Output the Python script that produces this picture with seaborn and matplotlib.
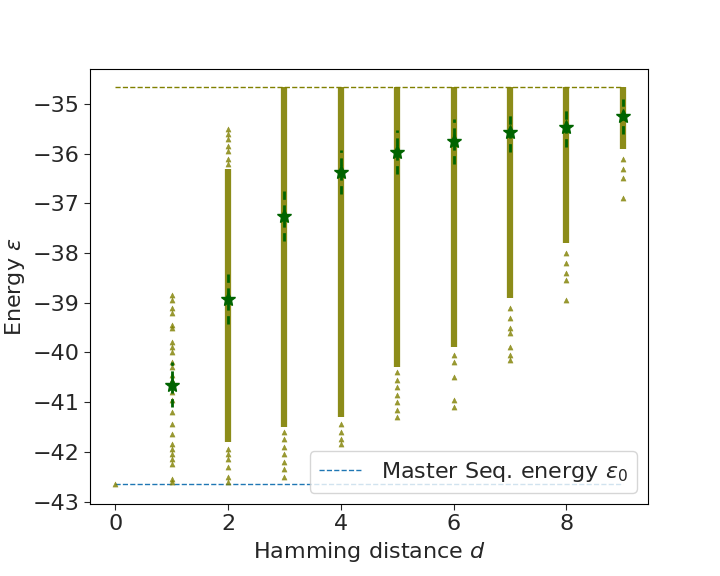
import matplotlib
matplotlib.use("Agg")
import matplotlib.pyplot as plt
import seaborn as sns
import pandas as pd

sns.set_style("white")
plt.rcParams['font.family'] = ['DejaVu Sans']

distances = [0, 1, 2, 3, 4, 5, 6, 7, 8, 9]
master_energy = -42.65
max_energy = -34.65
# dense (solid-looking) spans per distance
dense_top = [None, None, -36.3, -34.65, -34.65, -34.65, -34.65, -34.65, -34.65, -34.65]
dense_bottom = [None, None, -41.8, -41.5, -41.3, -40.3, -39.9, -38.9, -37.8, -35.9]
# individually visible sampled energies per distance
sparse = {
    0: [-42.65],
    1: [-38.85, -38.95, -39.1, -39.2, -39.45, -39.5, -39.8, -39.9, -40.0, -40.2, -40.3,
        -40.45, -40.55, -40.8, -40.95, -41.2, -41.45, -41.65, -41.85, -41.95, -42.05,
        -42.15, -42.25, -42.55, -42.6],
    2: [-35.5, -35.6, -35.7, -35.85, -35.95, -36.1, -36.2, -41.95, -42.05, -42.15,
        -42.3, -42.5, -42.6],
    3: [-41.6, -41.75, -41.9, -42.05, -42.2, -42.35, -42.5],
    4: [-41.45, -41.6, -41.75, -41.85],
    5: [-40.4, -40.55, -40.7, -40.85, -41.0, -41.15, -41.3],
    6: [-40.05, -40.2, -40.5, -40.95, -41.1],
    7: [-39.1, -39.3, -39.5, -39.6, -39.9, -40.05, -40.15],
    8: [-38.0, -38.2, -38.4, -38.55, -38.95],
    9: [-36.1, -36.3, -36.5, -36.9],
}
mean_d = [1, 2, 3, 4, 5, 6, 7, 8, 9]
mean_e = [-40.65, -38.93, -37.25, -36.37, -35.97, -35.75, -35.57, -35.47, -35.25]
std_e = [0.45, 0.5, 0.5, 0.45, 0.45, 0.45, 0.4, 0.4, 0.35]

rows = [(d, e) for d, es in sparse.items() for e in es]
df = pd.DataFrame(rows, columns=["d", "e"])

fig, ax = plt.subplots(figsize=(7.2, 5.76), dpi=100)
fig.subplots_adjust(left=0.125, right=0.9, top=0.88, bottom=0.125)

for d, t, b in zip(distances, dense_top, dense_bottom):
    if t is not None:
        ax.plot([d, d], [t, b], color="olive", lw=4.5, alpha=0.9, solid_capstyle="butt", zorder=2)
sns.scatterplot(data=df, x="d", y="e", marker="^", color="olive", s=14,
                edgecolor="olive", alpha=0.8, ax=ax, zorder=3, legend=False)

ax.errorbar(mean_d, mean_e, yerr=std_e, fmt="*", color="darkgreen", ms=10,
            ls="none", elinewidth=2, zorder=4)
for line in ax.lines[-1:]:
    pass
ax.containers[-1][2][0].set_linestyle((0, (3, 2)))

ax.plot([0, 9], [max_energy, max_energy], ls="--", color="olive", lw=1)
ax.plot([0, 9], [master_energy, master_energy], ls="--", color="tab:blue", lw=1,
        label=r"Master Seq. energy $\varepsilon_0$")

ax.set_xlim(-0.45, 9.45)
ax.set_ylim(-43.05, -34.3)
ax.set_xticks([0, 2, 4, 6, 8])
ax.set_yticks([-43, -42, -41, -40, -39, -38, -37, -36, -35])
ax.tick_params(labelsize=16, left=True, bottom=True, length=4)
ax.set_xlabel(r"Hamming distance $d$", fontsize=16)
ax.set_ylabel(r"Energy $\varepsilon$", fontsize=16)
for s in ax.spines.values():
    s.set_color("black")
ax.legend(loc="lower right", fontsize=16)
fig.savefig("out.png", dpi=100)
